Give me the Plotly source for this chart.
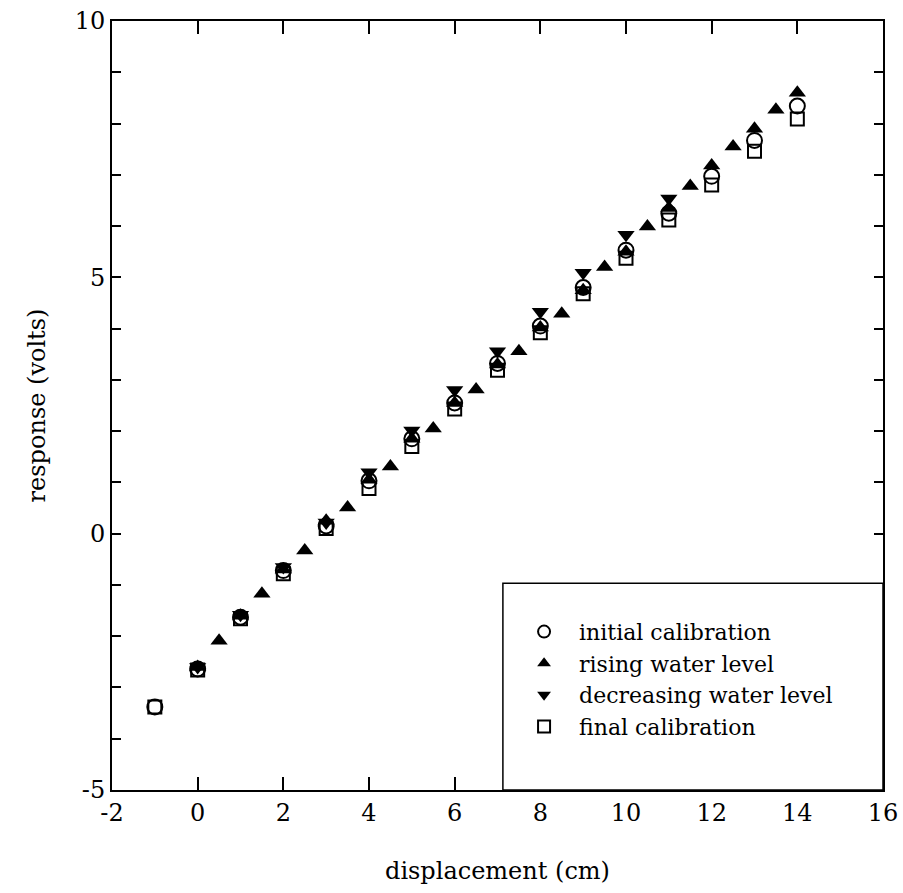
import plotly.graph_objects as go

# ---- data ----
x_initial = [-1, 0, 1, 2, 3, 4, 5, 6, 7, 8, 9, 10, 11, 12, 13, 14]
y_initial = [-3.38, -2.64, -1.63, -0.72, 0.15, 1.03, 1.85, 2.55, 3.32, 4.05, 4.8, 5.53, 6.25, 6.97, 7.67, 8.34]

x_rising = [0, 0.5, 1, 1.5, 2, 2.5, 3, 3.5, 4, 4.5, 5, 5.5, 6, 6.5, 7, 7.5, 8, 8.5, 9, 9.5,
            10, 10.5, 11, 11.5, 12, 12.5, 13, 13.5, 14]
y_rising = [-2.6, -2.09, -1.6, -1.17, -0.7, -0.33, 0.25, 0.51, 1.05, 1.31, 1.85, 2.05, 2.55, 2.81,
            3.3, 3.56, 4.02, 4.29, 4.75, 5.2, 5.5, 5.99, 6.35, 6.78, 7.18, 7.55, 7.9, 8.27, 8.6]

x_decreasing = [0, 1, 2, 3, 4, 5, 6, 7, 8, 9, 10, 11]
y_decreasing = [-2.6, -1.58, -0.65, 0.22, 1.2, 2.01, 2.8, 3.56, 4.33, 5.09, 5.83, 6.54]

x_final = [-1, 0, 1, 2, 3, 4, 5, 6, 7, 8, 9, 10, 11, 12, 13, 14]
y_final = [-3.38, -2.66, -1.66, -0.78, 0.1, 0.88, 1.7, 2.43, 3.19, 3.92, 4.68, 5.37, 6.12, 6.8, 7.46, 8.09]

x_ticks = [-2, 0, 2, 4, 6, 8, 10, 12, 14, 16]
y_ticks = [-5, 0, 5, 10]

FONT = "DejaVu Serif"

fig = go.Figure()
fig.add_trace(go.Scatter(x=x_initial, y=y_initial, mode="markers", name="initial calibration",
                         marker=dict(symbol="circle-open", size=15, color="black", line=dict(width=2))))
fig.add_trace(go.Scatter(x=x_rising, y=y_rising, mode="markers", name="rising water level",
                         marker=dict(symbol="triangle-up", size=15, color="black", line=dict(width=0))))
fig.add_trace(go.Scatter(x=x_decreasing, y=y_decreasing, mode="markers", name="decreasing water level",
                         marker=dict(symbol="triangle-down", size=15, color="black", line=dict(width=0))))
fig.add_trace(go.Scatter(x=x_final, y=y_final, mode="markers", name="final calibration",
                         marker=dict(symbol="square-open", size=13, color="black", line=dict(width=2))))

# legend box
fig.add_shape(type="rect", xref="paper", yref="paper", x0=0.507, x1=1.0, y0=0.0, y1=0.269,
              line=dict(color="black", width=1.5), fillcolor="white", layer="above")

fig.update_layout(
    width=903, height=893,
    margin=dict(l=112, r=20, t=21, b=103),
    paper_bgcolor="white", plot_bgcolor="white",
    font=dict(family=FONT, size=24, color="black"),
    showlegend=True,
    legend=dict(x=0.515, y=0.233, xanchor="left", yanchor="top",
                bgcolor="rgba(0,0,0,0)", borderwidth=0,
                font=dict(family=FONT, size=22, color="black"),
                itemwidth=60, itemsizing="constant", tracegroupgap=0),
)
fig.update_xaxes(range=[-2, 16], tickvals=x_ticks, ticktext=[str(v) for v in x_ticks],
                 ticks="inside", ticklen=13, tickwidth=1.5, tickcolor="black",
                 showline=True, linecolor="black", linewidth=2, mirror="ticks",
                 showgrid=False, zeroline=False,
                 tickfont=dict(family=FONT, size=24),
                 title=dict(text="displacement (cm)", standoff=36, font=dict(family=FONT, size=24)),
                 automargin=False)
y_minor = list(range(-5, 11))
fig.update_yaxes(range=[-5, 10], tickvals=y_minor,
                 ticktext=[str(v) if v in y_ticks else "" for v in y_minor],
                 ticks="inside", ticklen=9, tickwidth=1.5, tickcolor="black",
                 showline=True, linecolor="black", linewidth=2, mirror="ticks",
                 showgrid=False, zeroline=False,
                 tickfont=dict(family=FONT, size=24),
                 title=dict(text="response (volts)", standoff=22, font=dict(family=FONT, size=24)),
                 automargin=False)

fig.write_html("out.html")
